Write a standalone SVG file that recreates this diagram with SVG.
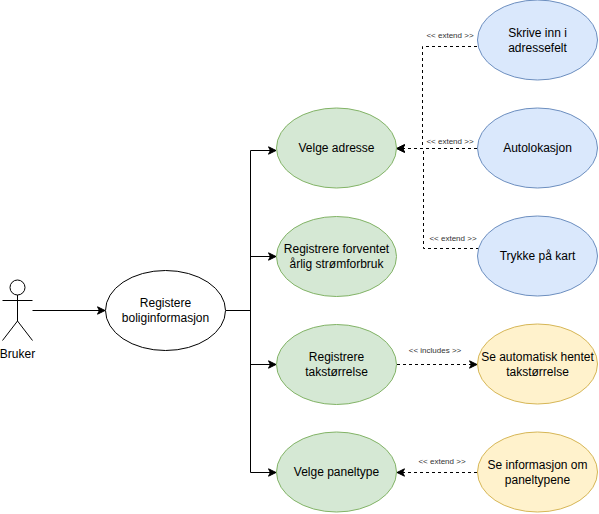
<svg xmlns="http://www.w3.org/2000/svg" width="599" height="514" viewBox="0 0 599 514">
<defs>
<marker id="arrow" markerUnits="userSpaceOnUse" markerWidth="9" markerHeight="9" refX="8" refY="4.5" orient="auto"><path d="M0.5 0.8L8 4.5L0.5 8.2L2.4 4.5Z" fill="#000" stroke="#000" stroke-width="1"/></marker>
</defs>
<style>
text{font-family:"Liberation Sans",Arial,sans-serif;font-size:12px;fill:#000;text-anchor:middle}
.lbl{font-size:8px;fill:#333}
.c{fill:none;stroke:#000;stroke-width:1}
.a{marker-end:url(#arrow)}
.d{stroke-dasharray:3 3}
.w{fill:#fff;stroke:#000}
.g{fill:#d5e8d4;stroke:#82b366}
.b{fill:#dae8fc;stroke:#6c8ebf}
.y{fill:#fff2cc;stroke:#d6b656}
</style>
<rect width="599" height="514" fill="#fff"/>
<g id="connectors">
<path class="c a" d="M32.500 310.500H105"/>
<path class="c a" d="M226 310.500H250.500V150.500H276"/>
<path class="c a" d="M226 310.500H250.500V256.500H276"/>
<path class="c a" d="M226 310.500H250.500V364.500H276"/>
<path class="c a" d="M226 310.500H250.500V472.500H276"/>
<path class="c a d" d="M477 46.500H422.500V148.500H397"/>
<path class="c a d" d="M477 148.500H397"/>
<path class="c a d" d="M479 248.500H423.500V148.500H397"/>
<path class="c a d" d="M397 364.500H477"/>
<path class="c a d" d="M477 472.500H397"/>
</g>
<g id="edge-labels">
<text class="lbl" x="450" y="38">&lt;&lt; extend &gt;&gt;</text>
<text class="lbl" x="450" y="144">&lt;&lt; extend &gt;&gt;</text>
<text class="lbl" x="453" y="241">&lt;&lt; extend &gt;&gt;</text>
<text class="lbl" x="435" y="353">&lt;&lt; includes &gt;&gt;</text>
<text class="lbl" x="442" y="464">&lt;&lt; extend &gt;&gt;</text>
</g>
<g id="actor-bruker">
<circle class="w" cx="17.500" cy="287.500" r="7.500"/>
<path class="c" d="M17.500 295V321M2.500 300.500H32.500M17.500 321L2.500 340.500M17.500 321L32.500 340.500"/>
<text x="17.500" y="358">Bruker</text>
</g>
<g id="node-registere"><ellipse class="w" cx="165.500" cy="310.500" rx="60" ry="40"/><text x="165.500" y="307">Registere</text><text x="165.500" y="322">boliginformasjon</text></g>
<g id="node-velge-adresse"><ellipse class="g" cx="336.500" cy="148" rx="60" ry="40"/><text x="336.500" y="152">Velge adresse</text></g>
<g id="node-forbruk"><ellipse class="g" cx="336.500" cy="256.500" rx="60" ry="40"/><text x="336.500" y="253">Registrere forventet</text><text x="336.500" y="268">årlig strømforbruk</text></g>
<g id="node-takstorrelse"><ellipse class="g" cx="336.500" cy="364.500" rx="60" ry="40"/><text x="336.500" y="361">Registrere</text><text x="336.500" y="376">takstørrelse</text></g>
<g id="node-paneltype"><ellipse class="g" cx="336.500" cy="472" rx="60" ry="40"/><text x="336.500" y="476">Velge paneltype</text></g>
<g id="node-skrive"><ellipse class="b" cx="537.500" cy="40" rx="60" ry="40"/><text x="537.500" y="37">Skrive inn i</text><text x="537.500" y="52">adressefelt</text></g>
<g id="node-autolokasjon"><ellipse class="b" cx="537.500" cy="148" rx="60" ry="40"/><text x="537.500" y="152">Autolokasjon</text></g>
<g id="node-kart"><ellipse class="b" cx="537.500" cy="256" rx="60" ry="40"/><text x="537.500" y="260">Trykke på kart</text></g>
<g id="node-automatisk"><ellipse class="y" cx="537.500" cy="364" rx="60" ry="40"/><text x="537.500" y="361">Se automatisk hentet</text><text x="537.500" y="376">takstørrelse</text></g>
<g id="node-informasjon"><ellipse class="y" cx="537.500" cy="472" rx="60" ry="40"/><text x="537.500" y="469">Se informasjon om</text><text x="537.500" y="484">paneltypene</text></g>
</svg>
